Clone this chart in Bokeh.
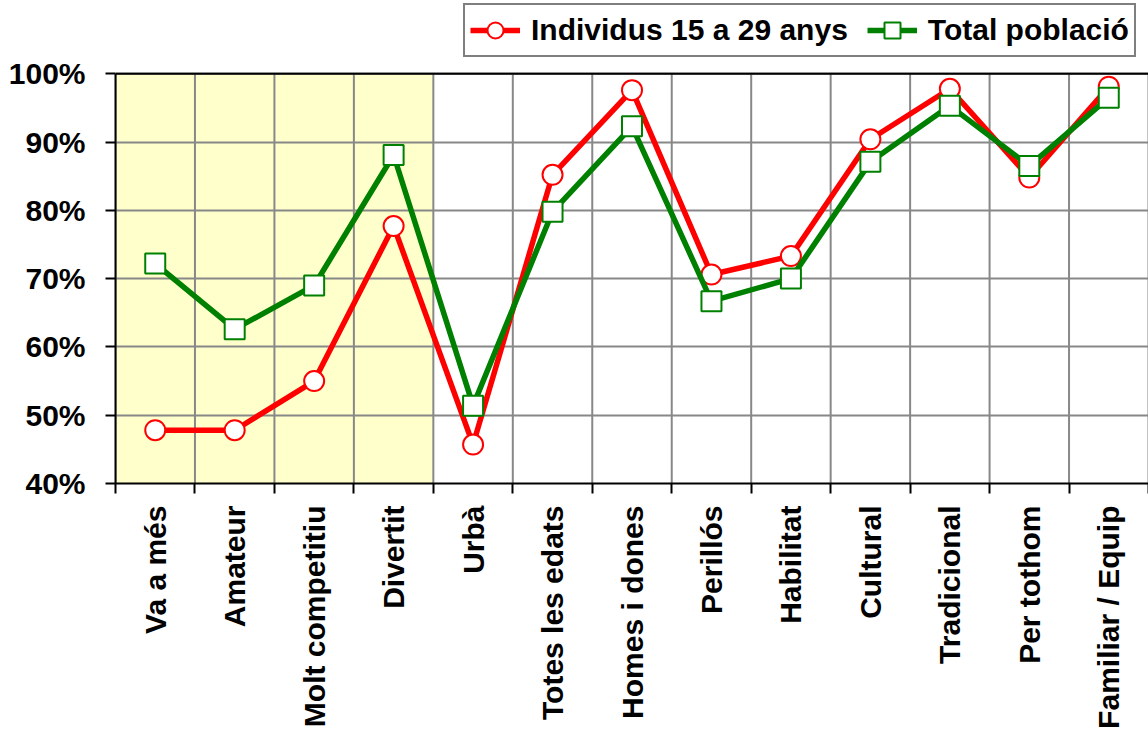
import math
from bokeh.plotting import figure
from bokeh.models import (FixedTicker, NumeralTickFormatter, BoxAnnotation, Legend,
                          LegendItem, Range1d, Span)
from bokeh.embed import file_html
from bokeh.resources import INLINE

categories = ["Va a més", "Amateur", "Molt competitiu", "Divertit", "Urbà",
              "Totes les edats", "Homes i dones", "Perillós", "Habilitat",
              "Cultural", "Tradicional", "Per tothom", "Familiar / Equip"]
joves = [0.478, 0.478, 0.550, 0.777, 0.457, 0.852, 0.976, 0.706, 0.733,
         0.904, 0.978, 0.848, 0.981]
total = [0.722, 0.626, 0.690, 0.881, 0.514, 0.798, 0.923, 0.667, 0.700,
         0.871, 0.953, 0.865, 0.965]
series_names = ["Individus 15 a 29 anys", "Total població"]
y_ticks = [0.4, 0.5, 0.6, 0.7, 0.8, 0.9, 1.0]
highlight_count = 4

FONT = "Liberation Sans"
n = len(categories)
xs = list(range(1, n + 1))
bounds = [i + 0.5 for i in range(0, n + 1)]

W, H = 1148, 731
LEFT, TOP_GAP, BOTTOM = 115, 74, 243
ymin, ymax = y_ticks[0], y_ticks[-1]
plot_px = H - TOP_GAP - BOTTOM          # pixel height of the 40%..100% area
frame_px = H - BOTTOM                  # frame extends to top of canvas
y_top = ymin + (ymax - ymin) * frame_px / plot_px

p = figure(width=W, height=H, output_backend="svg", toolbar_location=None,
           x_range=Range1d(0.5, n + 0.5), y_range=Range1d(ymin, y_top),
           min_border_left=LEFT, min_border_right=0, min_border_top=0,
           min_border_bottom=BOTTOM)
p.background_fill_color = "white"
p.border_fill_color = "white"
p.outline_line_color = None

hl = BoxAnnotation(left=0.5, right=highlight_count + 0.5, bottom=ymin, top=ymax,
                   fill_color="#FFFFCC", fill_alpha=1.0, line_color=None, level="image")
p.add_layout(hl)

# grids: horizontal from the axis ticks, vertical at category boundaries (limited to plot area)
p.xgrid.visible = False
p.ygrid.grid_line_color = "#888888"
p.ygrid.grid_line_width = 2
p.segment(x0=bounds, y0=[ymin] * len(bounds), x1=bounds, y1=[ymax] * len(bounds),
          line_color="#888888", line_width=2, level="underlay")

top_border = Span(location=ymax, dimension="width", line_color="black", line_width=2)
p.add_layout(top_border)

# x axis
xa = p.xaxis[0]
xa.ticker = FixedTicker(ticks=xs, minor_ticks=bounds)
xa.major_label_overrides = {x: c for x, c in zip(xs, categories)}
xa.major_label_orientation = math.pi / 2
xa.major_tick_line_color = None
xa.minor_tick_out = 10
xa.minor_tick_in = 0
xa.minor_tick_line_color = "black"
xa.minor_tick_line_width = 2
xa.axis_line_color = "black"
xa.axis_line_width = 2
xa.major_label_text_font = FONT
xa.major_label_text_font_style = "bold"
xa.major_label_text_font_size = "30px"
xa.major_label_text_color = "black"
xa.major_label_standoff = 12

# y axis
ya = p.yaxis[0]
ya.ticker = FixedTicker(ticks=y_ticks)
ya.bounds = (ymin, ymax)
ya.formatter = NumeralTickFormatter(format="0%")
ya.major_tick_out = 10
ya.major_tick_in = 0
ya.major_tick_line_color = "black"
ya.major_tick_line_width = 2
ya.minor_tick_line_color = None
ya.axis_line_color = "black"
ya.axis_line_width = 2
ya.major_label_text_font = FONT
ya.major_label_text_font_style = "bold"
ya.major_label_text_font_size = "30px"
ya.major_label_text_color = "black"
ya.major_label_standoff = 20

r1l = p.line(xs, joves, line_color="#FF0000", line_width=5.5, line_join="round")
r1s = p.scatter(xs, joves, marker="circle", size=20, fill_color="white",
                line_color="#FF0000", line_width=2)
r2l = p.line(xs, total, line_color="#008000", line_width=5.5, line_join="round")
r2s = p.scatter(xs, total, marker="square", size=20, fill_color="white",
                line_color="#008000", line_width=2)

legend = Legend(items=[LegendItem(label=series_names[0], renderers=[r1l, r1s]),
                       LegendItem(label=series_names[1], renderers=[r2l, r2s])],
                orientation="horizontal")
legend.label_text_font = FONT
legend.label_text_font_style = "bold"
legend.label_text_font_size = "30px"
legend.label_text_color = "black"
legend.glyph_width = 50
legend.glyph_height = 40
legend.label_height = 40
legend.label_standoff = 11
legend.spacing = 19
legend.padding = 5
legend.margin = 0
legend.location = (463 - LEFT, plot_px + 12)
legend.border_line_color = "black"
legend.border_line_width = 2
legend.background_fill_color = "white"
legend.background_fill_alpha = 1
p.add_layout(legend)

open("out.html", "w").write(file_html(p, INLINE))
